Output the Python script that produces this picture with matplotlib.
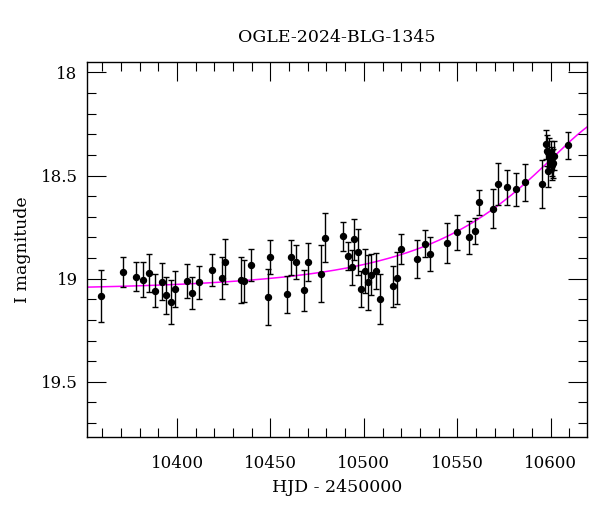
import numpy as np
import matplotlib
matplotlib.use("Agg")
import matplotlib.pyplot as plt
from matplotlib.ticker import MultipleLocator

# Observations: HJD-2450000, I magnitude, error
hjd = [10359.1, 10371.0, 10378.0, 10381.9, 10384.9, 10388.1, 10391.9, 10394.0,
       10396.8, 10399.0, 10405.1, 10407.9, 10411.8, 10418.8, 10424.0, 10425.9,
       10434.0, 10435.9, 10439.8, 10448.7, 10450.0, 10458.7, 10460.8, 10463.7,
       10467.8, 10469.9, 10476.9, 10479.0, 10488.7, 10491.5, 10493.7, 10494.9,
       10496.7, 10498.5, 10500.4, 10502.4, 10503.6, 10506.5, 10508.6, 10515.6,
       10517.7, 10519.7, 10528.6, 10532.5, 10535.6, 10544.7, 10549.7, 10556.5,
       10559.4, 10561.6, 10569.4, 10571.6, 10576.4, 10581.4, 10586.4, 10595.3,
       10597.3, 10598.2, 10599.0, 10598.4, 10600.0, 10600.5, 10600.9, 10601.2,
       10601.6, 10609.5]
mag = [19.083, 18.968, 18.990, 19.005, 18.971, 19.058, 19.015, 19.081,
       19.113, 19.051, 19.011, 19.069, 19.018, 18.958, 18.998, 18.918,
       19.006, 19.011, 18.935, 19.089, 18.895, 19.076, 18.897, 18.921,
       19.056, 18.919, 18.977, 18.801, 18.795, 18.889, 18.945, 18.808,
       18.871, 19.048, 18.961, 19.017, 18.981, 18.963, 19.099, 19.037,
       18.998, 18.857, 18.905, 18.830, 18.882, 18.829, 18.775, 18.800,
       18.771, 18.630, 18.661, 18.541, 18.556, 18.567, 18.533, 18.541,
       18.349, 18.380, 18.390, 18.477, 18.404, 18.449, 18.433, 18.441,
       18.404, 18.354]
err = [0.125, 0.074, 0.071, 0.086, 0.093, 0.080, 0.089, 0.090,
       0.106, 0.086, 0.081, 0.076, 0.080, 0.078, 0.102, 0.110,
       0.110, 0.100, 0.077, 0.136, 0.081, 0.090, 0.086, 0.082,
       0.100, 0.094, 0.138, 0.118, 0.069, 0.069, 0.084, 0.099,
       0.112, 0.087, 0.107, 0.133, 0.100, 0.089, 0.122, 0.100,
       0.125, 0.074, 0.091, 0.066, 0.083, 0.097, 0.086, 0.082,
       0.063, 0.059, 0.095, 0.103, 0.085, 0.079, 0.090, 0.115,
       0.070, 0.075, 0.070, 0.080, 0.072, 0.075, 0.070, 0.072,
       0.070, 0.065]

# Point-lens (Paczynski) model parameters
t0 = 10639.0
tE = 95.0
u0 = 0.49
I_base = 19.058
f_s = 1.0

title = "OGLE-2024-BLG-1345"
xlabel = "HJD - 2450000"
ylabel = "I magnitude"

plt.rcParams['font.family'] = ['DejaVu Serif']
plt.rcParams['mathtext.fontset'] = 'dejavuserif'

fig = plt.figure(figsize=(6.0, 5.12), dpi=100)
ax = fig.add_axes([0.1455, 0.147, 0.8325, 0.731])

xlim = (10351.9, 10619.4)
tm = np.linspace(xlim[0], xlim[1], 600)
u = np.sqrt(u0**2 + ((tm - t0) / tE)**2)
A = (u**2 + 2) / (u * np.sqrt(u**2 + 4))
model = I_base - 2.5 * np.log10(f_s * A + 1 - f_s)
ax.plot(tm, model, color='#ff00ff', lw=1.1, zorder=1)

ax.errorbar(hjd, mag, yerr=err, fmt='o', color='black', ms=4.3,
            ecolor='black', elinewidth=1.0, capsize=2.5, capthick=1.0, zorder=2)

ax.set_xlim(*xlim)
ax.set_ylim(19.766, 17.952)
ax.xaxis.set_major_locator(MultipleLocator(50))
ax.xaxis.set_minor_locator(MultipleLocator(10))
ax.yaxis.set_major_locator(MultipleLocator(0.5))
ax.yaxis.set_minor_locator(MultipleLocator(0.1))
ax.yaxis.set_major_formatter(plt.FuncFormatter(lambda v, p: f"{v:g}"))

ax.tick_params(which='both', direction='in', top=True, right=True, width=0.8, color='black')
ax.tick_params(which='major', length=13.7)
ax.tick_params(which='minor', length=6.8)
ax.tick_params(axis='x', which='major', pad=13, labelsize=12)
ax.tick_params(axis='y', which='major', pad=7, labelsize=12)
for s in ax.spines.values():
    s.set_linewidth(1.0)

ax.set_title(title, fontsize=12.5, pad=15)
ax.set_xlabel(xlabel, fontsize=12.5, labelpad=5)
ax.set_ylabel(ylabel, fontsize=12.5, labelpad=7)

fig.savefig("out.png", dpi=100)
